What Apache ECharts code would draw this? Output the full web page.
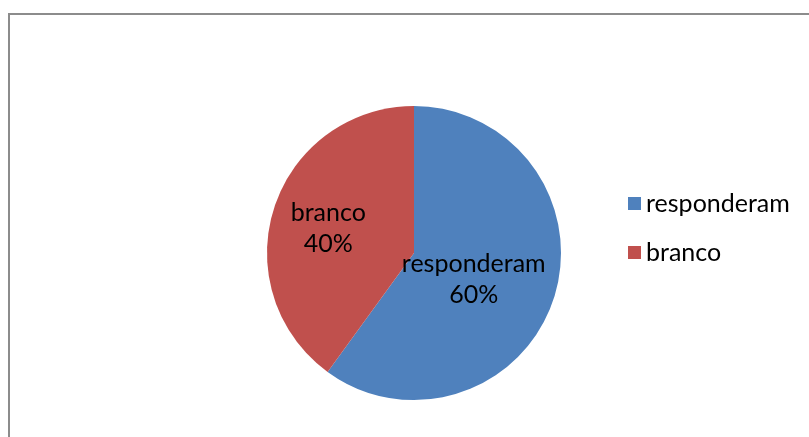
<!DOCTYPE html>
<html>
<head>
<meta charset="utf-8">
<script src="https://cdn.jsdelivr.net/npm/echarts@6/dist/echarts.min.js"></script>
<style>
  html, body { margin: 0; padding: 0; background: #fff; }
  #chart { width: 809px; height: 437px; }
</style>
</head>
<body>
<div id="chart"></div>
<script>
// categorias e valores do gráfico
var categories = ['responderam', 'branco'];
var values = [60, 40];
var colors = ['#4f81bd', '#c0504d'];
var labelOffsets = [[-13, 3], [-13, -1]];

var pieDom = document.getElementById('chart');
var pieChart = echarts.init(pieDom);

var pieData = categories.map(function (name, i) {
  return {
    name: name,
    value: values[i],
    itemStyle: { color: colors[i] },
    label: { offset: labelOffsets[i] }
  };
});

var fontFamily = 'Lato, "Noto Sans", sans-serif';

var option = {
  animation: false,
  graphic: [{
    type: 'rect',
    shape: { x: 9, y: 14, width: 830, height: 450 },
    style: { fill: 'none', stroke: '#8c8c8c', lineWidth: 2 }
  }],
  legend: {
    orient: 'vertical',
    left: 623,
    top: 186,
    padding: 5,
    itemWidth: 13,
    itemHeight: 13,
    itemGap: 24,
    icon: 'rect',
    textStyle: { fontSize: 25, color: '#000', fontFamily: fontFamily },
    data: categories
  },
  series: [{
    type: 'pie',
    center: [414, 253],
    radius: 147,
    startAngle: 90,
    clockwise: true,
    label: {
      show: true,
      position: 'inside',
      formatter: '{b}\n{d}%',
      fontSize: 25,
      lineHeight: 31,
      color: '#000',
      fontFamily: fontFamily
    },
    labelLine: { show: false },
    emphasis: { disabled: true },
    data: pieData
  }]
};

pieChart.setOption(option, true);
</script>
</body>
</html>
